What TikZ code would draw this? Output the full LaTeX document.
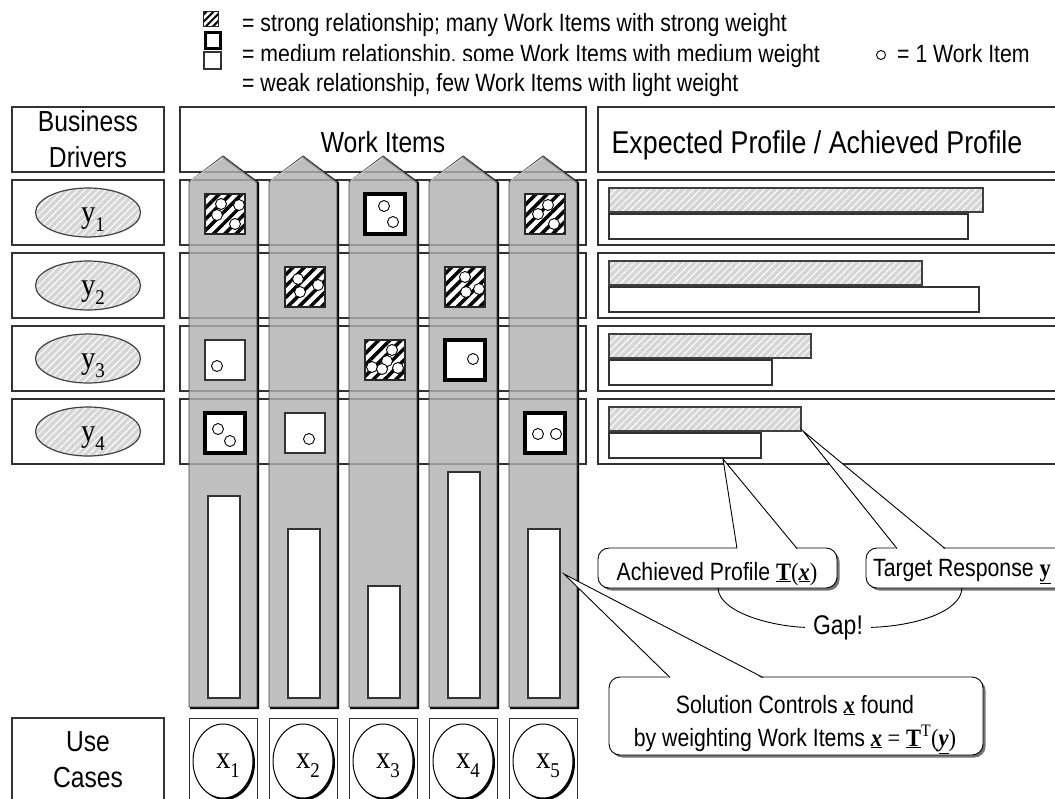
\documentclass[tikz,border=0pt]{standalone}
\usepackage{fontspec}
\setmainfont{Liberation Sans}[FakeStretch=0.85]
\newfontfamily\tms{Liberation Serif}[FakeStretch=0.9]
\usetikzlibrary{patterns.meta,shapes.geometric,shadows}
\newcommand\fsz[2]{\fontsize{#1}{#2}\selectfont}
\newcommand\wcell[4]{%
  \pgfmathsetmacro\cx{225+80*(#1-1)}%
  \pgfmathsetmacro\cy{214+73*(#2-1)}%
  \draw[#3] (\cx-20,\cy-20) rectangle (\cx+20,\cy+20);%
  \foreach \pa/\pb in {#4} {\draw[wi] (\cx-20+\pa,\cy-20+\pb) circle (5.5);}%
}
\begin{document}
\begin{tikzpicture}[x=1pt,y=-1pt,
  bx/.style={draw=black!80, line width=1.3pt, fill=white},
  lgd/.style={font=\fsz{25}{30}, inner sep=0pt, anchor=base west},
  big/.style={font=\fsz{29}{36}, align=center, inner sep=0pt},
  strongcell/.style={preaction={fill=white}, pattern={Lines[angle=45,distance=8pt,line width=3.5pt]}, pattern color=black, draw=black!85, line width=1.4pt},
  strongleg/.style={preaction={fill=white}, pattern={Lines[angle=45,distance=5pt,line width=2pt]}, pattern color=black, draw=black!85, line width=1pt},
  medcell/.style={fill=white, draw=black, line width=3.5pt},
  weakcell/.style={fill=white, draw=black!80, line width=1.2pt},
  light/.style={preaction={fill=black!16}, pattern={Lines[angle=45,distance=5pt,line width=1pt]}, pattern color=white, draw=black!75, line width=1.2pt},
  wi/.style={fill=white, draw=black, line width=0.9pt},
  colm/.style={fill=black!31, fill opacity=0.8, draw=black!75, line width=0.9pt},
  bub/.style={rectangle, fill=white, draw=black, line width=0.9pt, rounded corners=11pt, inner sep=0pt,
    drop shadow={shadow xshift=2.5pt, shadow yshift=-2.5pt, fill=black!55, opacity=1}},
  ptr/.style={draw=black, line width=0.9pt},
  serifl/.style={font={\tms\fsz{32}{32}}, inner sep=0pt, anchor=base}
]
\useasboundingbox (0,0) rectangle (1055,798);
\clip (0,0) rectangle (1055,798);

% ---------- legend ----------
\draw[strongleg] (203,11) rectangle (218,26);
\draw[medcell, line width=3pt] (205,32) rectangle (220,48);
\draw[weakcell] (204,52) rectangle (221,69);
\node[lgd] (l1) at (242,31) {= strong relationship; many Work Items with strong weight};
\node[lgd] (l2) at (242,62) {= medium relationship, some Work Items with medium weight};
\node[lgd, fill=white, inner ysep=12pt] (l3) at (242,91) {= weak relationship, few Work Items with light weight};
\node[circle, draw=black, line width=0.9pt, minimum size=9pt, inner sep=0pt] (wic) at (881,55) {};
\node[lgd] (l4) at (897,62) {= 1 Work Item};

% ---------- header boxes ----------
\draw[bx] (12,107) rectangle (164,172);
\draw[bx] (180,107) rectangle (586,172);
\draw[bx] (598,107) rectangle (1060,172);
\node[big] (bdt) at (88,139.5) {Business\\Drivers};
\node[big, anchor=base] (wit) at (383,152) {Work Items};
\node[big, anchor=base, font=\fsz{31.5}{36}] (ept) at (817,153) {Expected Profile / Achieved Profile};

% ---------- row boxes ----------
\foreach \rr in {0,...,3} {
  \pgfmathsetmacro\t{180+73*\rr}
  \draw[bx] (12,\t) rectangle (164,\t+65);
  \draw[bx] (180,\t) rectangle (586,\t+65);
  \draw[bx] (598,\t) rectangle (1060,\t+65);
}
% business driver ellipses
\foreach \rr in {1,...,4} {
  \pgfmathsetmacro\c{212.5+73*(\rr-1)}
  \node[ellipse, light, minimum width=105pt, minimum height=49pt, inner sep=0pt] (y\rr) at (88,\c) {};
  \node[serifl] (yl\rr) at (93,\c+10) {y\raisebox{-9pt}{\fsz{21}{21}\rr}};
}
% profile bars
\foreach \rr/\h/\w in {0/983/968, 1/922/979, 2/811/772, 3/801/761} {
  \pgfmathsetmacro\t{180+73*\rr}
  \draw[light] (609,\t+8) rectangle (\h,\t+32);
  \draw[weakcell] (609,\t+34) rectangle (\w,\t+59);
}

% ---------- work item columns ----------
\foreach \i in {0,...,4} {
  \pgfmathsetmacro\L{189+80*\i}
  \draw[black, line width=2.2pt] (\L+34,157) -- (\L+69,183) -- (\L+69,708) -- (\L+1,708);
  \draw[colm] (\L,182) -- (\L+34,156) -- (\L+68,182) -- (\L+68,707) -- (\L,707) -- cycle;
  \draw[white!85!black, line width=0.8pt] (\L+1.5,181) -- (\L+34,157.5);
}

% ---------- relationship cells ----------
\wcell{1}{1}{strongcell}{16/10,34/11,12/21,30/30}
\wcell{3}{1}{medcell}{19/12,28/28}
\wcell{5}{1}{strongcell}{23/11,13/20,29/30}
\wcell{2}{2}{strongcell}{13/12,33/18,15/25}
\wcell{4}{2}{strongcell}{20/10,34/22,21/25}
\wcell{1}{3}{weakcell}{12/26}
\wcell{3}{3}{strongcell}{27/10,22/21,7/27,33/28,17/29}
\wcell{4}{3}{medcell}{28/19}
\wcell{1}{4}{medcell}{13/16,25/28}
\wcell{2}{4}{weakcell}{24/26}
\wcell{5}{4}{medcell}{13/21,31/21}

% solution bars
\foreach \i/\t in {0/496,1/529,2/586,3/472,4/529} {
  \pgfmathsetmacro\L{189+80*\i}
  \draw[weakcell] (\L+19,\t) rectangle (\L+51,698);
}

% ---------- use cases ----------
\draw[bx] (12,718) rectangle (164,805);
\node[big] (uct) at (88,760) {Use\\Cases};
\foreach \i in {1,...,5} {
  \pgfmathsetmacro\L{189+80*(\i-1)}
  \draw[bx, line width=1pt] (\L,718) rectangle (\L+68,805);
  \node[ellipse, draw=black, fill=white, line width=1pt, minimum width=60pt, minimum height=74pt, inner sep=0pt,
    drop shadow={shadow xshift=2pt, shadow yshift=-2pt, fill=black, opacity=1}] (x\i) at (\L+34,761) {};
  \node[serifl] (xl\i) at (\L+39,768) {x\raisebox{-9pt}{\fsz{21}{21}\i}};
}

% ---------- callouts ----------
\node[bub, minimum width=239pt, minimum height=40pt] (ach) at (717.5,568) {};
\node[bub, minimum width=209pt, minimum height=40pt] (tgt) at (970.5,568) {};
\node[bub, minimum width=374pt, minimum height=78pt] (sol) at (796,716) {};

\coordinate (tipA) at (723,459);
\coordinate (tipT) at (803,431);
\coordinate (tipS) at (564,574);
\fill[white] (737,550) -- (tipA) -- (797,550) -- cycle;
\draw[ptr] (737,548.5) -- (tipA) -- (797,548.5);
\fill[white] (897,550) -- (tipT) -- (945,550) -- cycle;
\draw[ptr] (897,548.5) -- (tipT) -- (945,548.5);
\fill[white] (670,679) -- (tipS) -- (763,679) -- cycle;
\draw[ptr] (670,677.5) -- (tipS) -- (763,677.5);

\node[lgd, anchor=base] (acht) at (717,580) {Achieved Profile {\tms\underline{\textbf{T}}(\underline{\textbf{\textit{x}}})}};
\node[lgd, anchor=base] (tgtt) at (962,576) {Target Response {\tms\underline{\textbf{y}}}};
\node[lgd, anchor=base] (sol1) at (795,713) {Solution Controls {\tms\underline{\textbf{\textit{x}}}} found};
\node[lgd, anchor=base] (sol2) at (795,746) {by weighting Work Items {\tms\underline{\textbf{\textit{x}}} = \underline{\textbf{T}}\textsuperscript{T}(\underline{\textbf{\textit{y}}})}};

\node[lgd, anchor=base, font=\fsz{27}{30}, inner xsep=8pt, inner ysep=2pt] (gap) at (838,634) {Gap!};
\draw[ptr] (718,588) .. controls (719,612) and (770,626) .. (gap.west);
\draw[ptr] (gap.east) .. controls (915,626) and (961,612) .. (962,588);
\end{tikzpicture}
\end{document}
